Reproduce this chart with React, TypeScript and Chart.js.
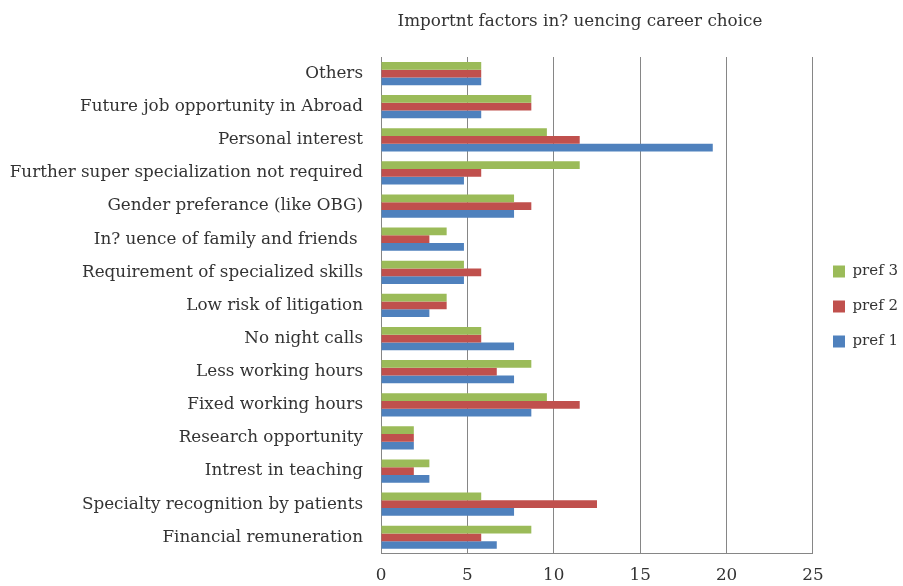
import React, { useEffect, useRef } from "react";
import { Chart, registerables } from "chart.js";

Chart.register(...registerables);

const categories = [
  "Others",
  "Future job opportunity in Abroad",
  "Personal interest",
  "Further super specialization not required",
  "Gender preferance (like OBG)",
  "In? uence of family and friends ",
  "Requirement of specialized skills",
  "Low risk of litigation",
  "No night calls",
  "Less working hours",
  "Fixed working hours",
  "Research opportunity",
  "Intrest in teaching",
  "Specialty recognition by patients",
  "Financial remuneration",
];

const pref3 = [5.8, 8.7, 9.6, 11.5, 7.7, 3.8, 4.8, 3.8, 5.8, 8.7, 9.6, 1.9, 2.8, 5.8, 8.7];
const pref2 = [5.8, 8.7, 11.5, 5.8, 8.7, 2.8, 5.8, 3.8, 5.8, 6.7, 11.5, 1.9, 1.9, 12.5, 5.8];
const pref1 = [5.8, 5.8, 19.2, 4.8, 7.7, 4.8, 4.8, 2.8, 7.7, 7.7, 8.7, 1.9, 2.8, 7.7, 6.7];

const xTicks = [0, 5, 10, 15, 20, 25];
const titleText = "Importnt factors in? uencing career choice";

const FONT = "'DejaVu Serif', 'Liberation Serif', serif";

const legendShift = {
  id: "legendShift",
  afterLayout(chart: any) {
    const lg = chart.legend;
    if (lg) {
      lg.top -= 21;
      lg.bottom -= 21;
    }
  },
};

export default function App() {
  const ref = useRef<HTMLCanvasElement | null>(null);

  useEffect(() => {
    document.body.style.margin = "0";
    const ctx = ref.current!;
    const chart = new Chart(ctx, {
      type: "bar",
      data: {
        labels: categories,
        datasets: [
          { label: "pref 3", data: pref3, backgroundColor: "#9BBB59" },
          { label: "pref 2", data: pref2, backgroundColor: "#C0504D" },
          { label: "pref 1", data: pref1, backgroundColor: "#4F81BD" },
        ],
      },
      options: {
        indexAxis: "y",
        animation: false,
        responsive: false,
        maintainAspectRatio: false,
        layout: { padding: { top: 57, right: -5, left: 0, bottom: -12 } },
        datasets: {
          bar: { categoryPercentage: 0.7, barPercentage: 1.0 },
        },
        plugins: {
          title: { display: false },
          tooltip: { enabled: false },
          legend: {
            position: "right",
            labels: {
              font: { family: FONT, size: 15 },
              color: "#333333",
              boxWidth: 12,
              boxHeight: 12,
              padding: 20,
            },
          },
        },
        scales: {
          x: {
            min: 0,
            max: 25,
            afterBuildTicks: (axis: any) => {
              axis.ticks = xTicks.map((v) => ({ value: v }));
            },
            grid: {
              color: "#868686",
              lineWidth: 1,
              drawTicks: false,
            },
            border: { display: true, color: "#868686" },
            ticks: {
              font: { family: FONT, size: 16.8 },
              color: "#333333",
              padding: 12,
            },
          },
          y: {
            afterFit: (axis: any) => {
              axis.width = 381;
            },
            grid: { display: false },
            border: { display: true, color: "#868686" },
            ticks: {
              font: { family: FONT, size: 16.8 },
              color: "#333333",
              padding: 10,
              autoSkip: false,
            },
          },
        },
      },
      plugins: [legendShift],
    });
    return () => chart.destroy();
  }, []);

  return (
    <div style={{ position: "relative", width: 903, height: 586 }}>
      <canvas ref={ref} width={903} height={586} style={{ display: "block" }} />
      <div
        style={{
          position: "absolute",
          left: 380,
          width: 400,
          top: 10,
          textAlign: "center",
          fontFamily: FONT,
          fontSize: 16.8,
          color: "#333333",
          whiteSpace: "nowrap",
        }}
      >
        {titleText}
      </div>
    </div>
  );
}
